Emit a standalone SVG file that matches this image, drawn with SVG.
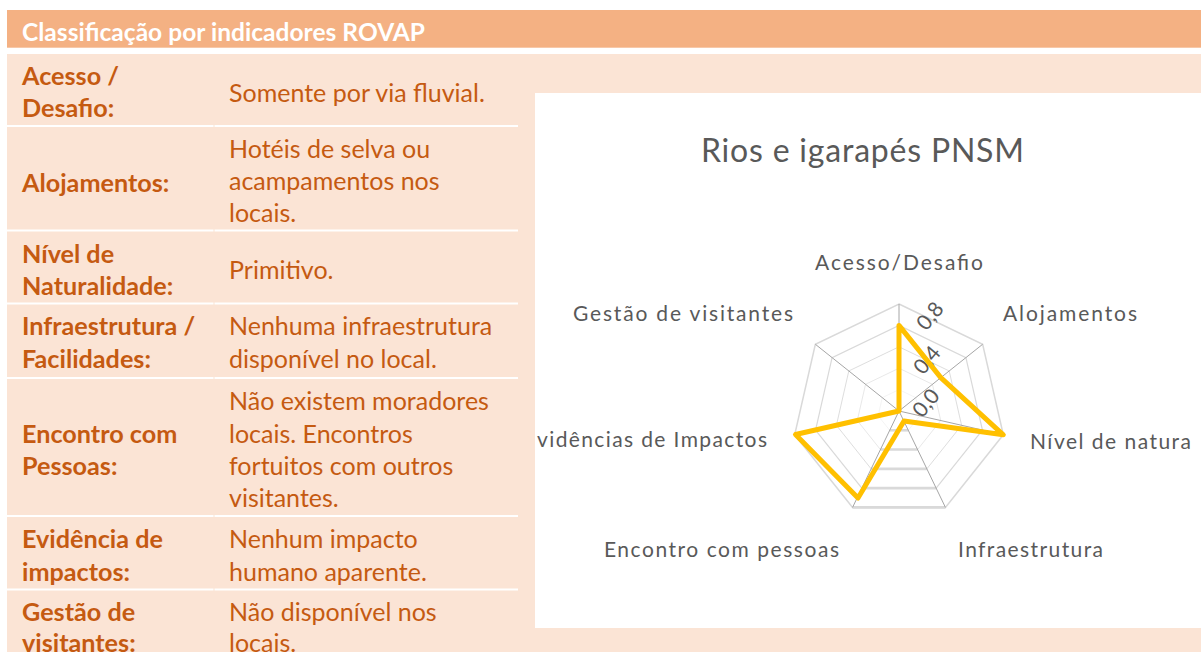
<svg xmlns="http://www.w3.org/2000/svg" width="1201" height="652" viewBox="0 0 1201 652">
<style>
.hdr{font-family:Lato,"Liberation Sans",sans-serif;font-weight:bold;font-size:24.5px;fill:#FFFFFF}
.lbl{font-family:Lato,"Liberation Sans",sans-serif;font-weight:bold;font-size:25.2px;fill:#C55A11}
.txt{font-family:Lato,"Liberation Sans",sans-serif;font-size:25px;fill:#C55A11}
.sep{stroke:#FFFFFF;stroke-width:2.2}
.ttl{font-family:Lato,"Liberation Sans",sans-serif;font-size:32px;fill:#595959}
.ax{font-family:Lato,"Liberation Sans",sans-serif;font-size:21px;fill:#595959}
.tick{font-family:Lato,"Liberation Sans",sans-serif;font-size:21px;fill:#595959}
.ring{fill:none;stroke:#D9D9D9;stroke-width:1.5;vector-effect:non-scaling-stroke}
.spoke{stroke:#A6A6A6;stroke-width:1}
</style>
<defs>
<polygon id="hept" points="0,-107 83.65,-66.72 104.31,23.81 46.43,96.41 -46.43,96.41 -104.31,23.81 -83.65,-66.72"/>
</defs>
<rect x="0" y="0" width="1201" height="652" fill="#FFFFFF"/>
<g id="header">
<rect x="7" y="10" width="1194" height="37.7" fill="#F4B183"/>
<text class="hdr" x="22" y="41" textLength="403">Classificação por indicadores ROVAP</text>
</g>
<rect id="panel" x="7" y="54" width="1194" height="598" fill="#FBE4D5"/>
<g id="separators">
<line class="sep" x1="7" y1="126" x2="213.5" y2="126"/><line class="sep" x1="214.5" y1="126" x2="518" y2="126"/>
<line class="sep" x1="7" y1="230.5" x2="213.5" y2="230.5"/><line class="sep" x1="214.5" y1="230.5" x2="518" y2="230.5"/>
<line class="sep" x1="7" y1="303.5" x2="213.5" y2="303.5"/><line class="sep" x1="214.5" y1="303.5" x2="518" y2="303.5"/>
<line class="sep" x1="7" y1="378" x2="213.5" y2="378"/><line class="sep" x1="214.5" y1="378" x2="518" y2="378"/>
<line class="sep" x1="7" y1="516" x2="213.5" y2="516"/><line class="sep" x1="214.5" y1="516" x2="518" y2="516"/>
<line class="sep" x1="7" y1="589.5" x2="213.5" y2="589.5"/><line class="sep" x1="214.5" y1="589.5" x2="518" y2="589.5"/>
</g>
<g id="row-acesso">
<text class="lbl" x="22" y="85">Acesso /</text>
<text class="lbl" x="22" y="116.5">Desafio:</text>
<text class="txt" x="229" y="101.7">Somente por via fluvial.</text>
</g>
<g id="row-alojamentos">
<text class="lbl" x="22" y="191.7">Alojamentos:</text>
<text class="txt" x="229" y="158.3">Hotéis de selva ou</text>
<text class="txt" x="229" y="190">acampamentos nos</text>
<text class="txt" x="229" y="221.7">locais.</text>
</g>
<g id="row-naturalidade">
<text class="lbl" x="22" y="263.3">Nível de</text>
<text class="lbl" x="22" y="295">Naturalidade:</text>
<text class="txt" x="229" y="279.3">Primitivo.</text>
</g>
<g id="row-infraestrutura">
<text class="lbl" x="22" y="335">Infraestrutura /</text>
<text class="lbl" x="22" y="367.5">Facilidades:</text>
<text class="txt" x="229" y="335">Nenhuma infraestrutura</text>
<text class="txt" x="229" y="367.5">disponível no local.</text>
</g>
<g id="row-encontro">
<text class="lbl" x="22" y="443.3">Encontro com</text>
<text class="lbl" x="22" y="475">Pessoas:</text>
<text class="txt" x="229" y="410">Não existem moradores</text>
<text class="txt" x="229" y="442.7">locais. Encontros</text>
<text class="txt" x="229" y="475">fortuitos com outros</text>
<text class="txt" x="229" y="507.3">visitantes.</text>
</g>
<g id="row-evidencia">
<text class="lbl" x="22" y="548.3">Evidência de</text>
<text class="lbl" x="22" y="580.7">impactos:</text>
<text class="txt" x="229" y="548.3">Nenhum impacto</text>
<text class="txt" x="229" y="580.7">humano aparente.</text>
</g>
<g id="row-gestao">
<text class="lbl" x="22" y="620.7">Gestão de</text>
<text class="lbl" x="22" y="651.7">visitantes:</text>
<text class="txt" x="229" y="620.7">Não disponível nos</text>
<text class="txt" x="229" y="651.7">locais.</text>
</g>
<g id="chart">
<rect x="535" y="93" width="666" height="535" fill="#FFFFFF"/>
<text class="ttl" x="701" y="161.7" textLength="323">Rios e igarapés PNSM</text>
<g id="grid" transform="translate(899,411)">
<use href="#hept" class="ring" transform="scale(0.2)"/>
<use href="#hept" class="ring" transform="scale(0.4)"/>
<use href="#hept" class="ring" transform="scale(0.6)"/>
<use href="#hept" class="ring" transform="scale(0.8)"/>
<use href="#hept" class="ring"/>
<g stroke="#D9D9D9" stroke-width="2.6">
<line x1="-9.29" y1="19.28" x2="9.29" y2="19.28"/>
<line x1="-18.57" y1="38.56" x2="18.57" y2="38.56"/>
<line x1="-27.86" y1="57.85" x2="27.86" y2="57.85"/>
<line x1="-37.14" y1="77.13" x2="37.14" y2="77.13"/>
<line x1="-46.43" y1="96.41" x2="46.43" y2="96.41"/>
</g>
<g class="spoke">
<line x1="0" y1="0" x2="0" y2="-107"/>
<line x1="0" y1="0" x2="83.65" y2="-66.72"/>
<line x1="0" y1="0" x2="104.31" y2="23.81"/>
<line x1="0" y1="0" x2="46.43" y2="96.41"/>
<line x1="0" y1="0" x2="-46.43" y2="96.41"/>
<line x1="0" y1="0" x2="-104.31" y2="23.81"/>
<line x1="0" y1="0" x2="-83.65" y2="-66.72"/>
</g>
</g>
<g id="ticks">
<text class="tick" x="929" y="315" text-anchor="middle" dominant-baseline="central" transform="rotate(-50 929 315)">0,8</text>
<text class="tick" x="926" y="359" text-anchor="middle" dominant-baseline="central" transform="rotate(-50 926 359)">0,4</text>
<text class="tick" x="925" y="402" text-anchor="middle" dominant-baseline="central" transform="rotate(-50 925 402)">0,0</text>
</g>
<polygon id="series" points="899,325.4 940.8,377.6 1003.3,434.8 904,421 858,498 795.5,434.5 899,411" fill="none" stroke="#FFC000" stroke-width="5" stroke-linejoin="round"/>
<g id="axis-labels">
<text class="ax" x="815" y="270" textLength="168">Acesso/Desafio</text>
<text class="ax" x="1003" y="320.7" textLength="134">Alojamentos</text>
<text class="ax" x="1030" y="449.3" textLength="161">Nível de natura</text>
<text class="ax" x="958" y="556.7" textLength="145">Infraestrutura</text>
<text class="ax" x="604" y="556.7" textLength="235">Encontro com pessoas</text>
<text class="ax" x="537" y="446.7" textLength="230">vidências de Impactos</text>
<text class="ax" x="573" y="320.7" textLength="220">Gestão de visitantes</text>
</g>
</g>
</svg>
